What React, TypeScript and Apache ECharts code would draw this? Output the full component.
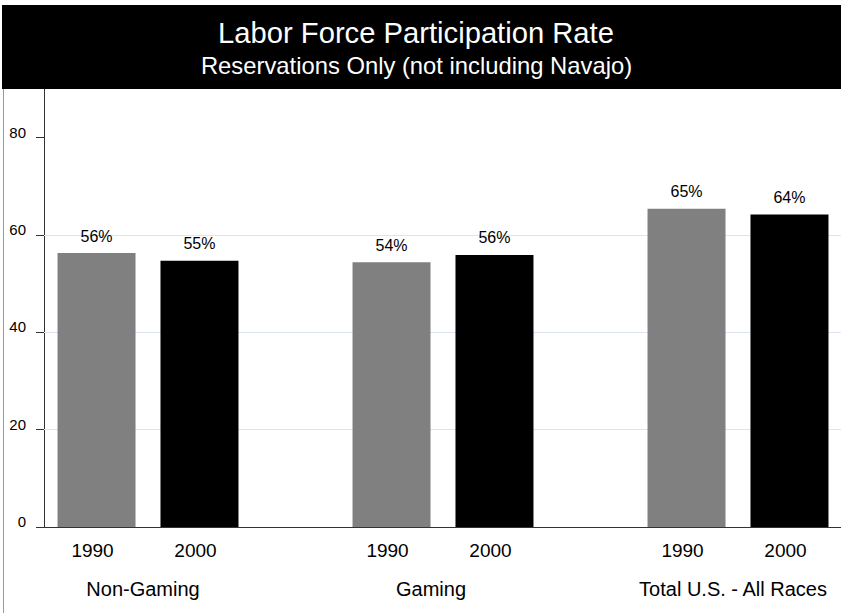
import React, { useEffect, useRef } from 'react';
import * as echarts from 'echarts';

const titleText = 'Labor Force Participation Rate';
const subtitleText = 'Reservations Only (not including Navajo)';
const groups = ['Non-Gaming', 'Gaming', 'Total U.S. - All Races'];
const years = ['1990', '2000'];
const values1990 = [56.3, 54.4, 65.4];
const values2000 = [54.7, 55.9, 64.2];
const yTicks = [0, 20, 40, 60, 80];
const gridValues = [20, 40, 60];
const yMax = 90;
const barColors = ['#808080', '#000000'];

const FONT = '"Liberation Sans", Arial, sans-serif';
// right padding per group label (shifts label left, as in the reference)
const groupLabelShift = [10, 24, 10];

export default function App() {
  const ref = useRef<HTMLDivElement>(null);
  useEffect(() => {
    if (!ref.current) return;
    const chart = echarts.init(ref.current, undefined, { renderer: 'svg' });
    const seriesValues = [values1990, values2000];
    const rich: any = {};
    groupLabelShift.forEach((s, i) => {
      rich['g' + i] = {
        fontSize: 20,
        color: '#000',
        fontFamily: FONT,
        padding: [0, s, 0, 0],
      };
    });
    const option: any = {
      animation: false,
      textStyle: { fontFamily: FONT },
      graphic: [
        {
          type: 'rect',
          shape: { x: 2, y: 5, width: 839, height: 84 },
          style: { fill: '#000' },
          z: 10,
          silent: true,
        },
        {
          type: 'line',
          shape: { x1: 3.5, y1: 89, x2: 3.5, y2: 613 },
          style: { stroke: '#9a9a9a', lineWidth: 1 },
          z: 10,
          silent: true,
        },
        {
          type: 'text',
          x: 416,
          y: 32.5,
          z: 11,
          style: {
            text: titleText,
            fill: '#fff',
            fontSize: 29.2,
            fontFamily: FONT,
            align: 'center',
            verticalAlign: 'middle',
            textAlign: 'center',
            textVerticalAlign: 'middle',
          },
        },
        {
          type: 'text',
          x: 416.5,
          y: 65,
          z: 11,
          style: {
            text: subtitleText,
            fill: '#fff',
            fontSize: 23.8,
            fontFamily: FONT,
            align: 'center',
            verticalAlign: 'middle',
            textAlign: 'center',
            textVerticalAlign: 'middle',
          },
        },
      ],
      grid: [
        { left: 44, top: 89, right: 0, bottom: 86 },
        { left: 148, top: 89, width: 590, bottom: 86 },
      ],
      xAxis: [
        {
          gridIndex: 0,
          type: 'category',
          data: [''],
          axisLine: { show: true, lineStyle: { color: '#333', width: 1 } },
          axisTick: { show: false },
          axisLabel: { show: false },
          splitLine: { show: false },
        },
        {
          gridIndex: 1,
          type: 'category',
          data: groups,
          boundaryGap: false,
          axisLine: { show: false },
          axisTick: { show: false },
          axisLabel: {
            interval: 0,
            margin: 52,
            fontSize: 20,
            color: '#000',
            fontFamily: FONT,
            formatter: (v: string, i: number) => `{g${i}|${v}}`,
            rich,
          },
          splitLine: { show: false },
        },
        {
          gridIndex: 1,
          type: 'category',
          data: groups,
          boundaryGap: false,
          show: false,
        },
      ],
      yAxis: [
        {
          gridIndex: 0,
          type: 'value',
          min: 0,
          max: yMax,
          interval: 20,
          axisLine: { show: true, lineStyle: { color: '#333', width: 1 } },
          axisTick: {
            show: true,
            length: 8,
            customValues: yTicks,
            lineStyle: { color: '#333' },
          },
          axisLabel: {
            customValues: yTicks,
            margin: 18,
            fontSize: 15,
            color: '#000',
            fontFamily: FONT,
            verticalAlign: 'bottom',
            lineHeight: 11,
          },
          splitLine: { show: false },
        },
        {
          gridIndex: 1,
          type: 'value',
          min: 0,
          max: yMax,
          show: false,
          splitLine: { show: false },
        },
      ],
      series: [
        {
          type: 'scatter',
          xAxisIndex: 0,
          yAxisIndex: 0,
          data: [],
          silent: true,
          z: 1,
          markLine: {
            silent: true,
            symbol: 'none',
            z: 1,
            animation: false,
            label: { show: false },
            lineStyle: { color: '#dde3ef', type: 'solid', width: 1.2 },
            emphasis: { disabled: true },
            data: gridValues.map((v) => ({ yAxis: v })),
          },
        },
        ...years.map((y, i) => ({
          type: 'bar',
          name: y,
          xAxisIndex: 1,
          yAxisIndex: 1,
          data: seriesValues[i],
          barWidth: 78,
          barGap: '32%',
          z: 2,
          itemStyle: { color: barColors[i] },
          label: {
            show: true,
            position: 'top',
            distance: 9,
            fontSize: 16,
            color: '#000',
            fontFamily: FONT,
            formatter: (p: any) => Math.round(p.value) + '%',
          },
        })),
        ...years.map((y, i) => ({
          type: 'bar',
          name: y + ' label',
          xAxisIndex: 2,
          yAxisIndex: 1,
          data: seriesValues[i],
          barWidth: 78,
          barGap: '32%',
          z: 3,
          silent: true,
          itemStyle: { color: 'transparent' },
          label: {
            show: true,
            position: 'bottom',
            distance: 13.5,
            offset: [-4, 0],
            fontSize: 19,
            color: '#000',
            fontFamily: FONT,
            formatter: y,
          },
        })),
      ],
    };
    chart.setOption(option);
    return () => chart.dispose();
  }, []);
  return (
    <div
      ref={ref}
      style={{ position: 'fixed', left: 0, top: 0, width: 841, height: 613, background: '#fff' }}
    />
  );
}
